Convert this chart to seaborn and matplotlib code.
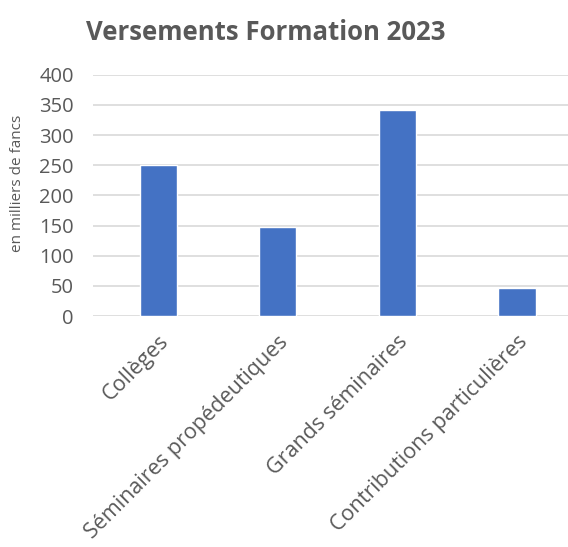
import matplotlib
matplotlib.use("Agg")
import matplotlib.pyplot as plt
import seaborn as sns
import pandas as pd

categories = ["Collèges", "Séminaires propédeutiques", "Grands séminaires", "Contributions particulières"]
values = [250, 147, 342, 46]
yticks = [0, 50, 100, 150, 200, 250, 300, 350, 400]
title = "Versements Formation 2023"
ylabel = "en milliers de fancs"

sns.set_theme(style="white")
plt.rcParams['font.family'] = ['Open Sans', 'DejaVu Sans']

TXT = "#595959"
BAR = "#4472C4"
GRID = "#D9D9D9"

fig = plt.figure(figsize=(5.68, 5.47), dpi=100)
ax = fig.add_axes([0.164, 0.4223, 0.836, 0.441])

df = pd.DataFrame({"cat": categories, "val": values})
sns.barplot(data=df, x="cat", y="val", color=BAR, width=0.31, ax=ax, saturation=1)

ax.set_xlim(-0.543, 3.426)
ax.set_ylim(0, 400)
ax.set_yticks(yticks)
ax.yaxis.grid(True, color=GRID, linewidth=1.2)
ax.set_axisbelow(True)
for s in ax.spines.values():
    s.set_visible(False)
ax.tick_params(axis="both", length=0, colors=TXT)
ax.tick_params(axis="y", labelsize=14.5, pad=14)
ax.set_xlabel("")
ax.set_ylabel(ylabel, fontsize=11, color=TXT)
ax.yaxis.set_label_coords(-0.143, 0.55)
for lab in ax.get_xticklabels():
    lab.set_rotation(45)
    lab.set_ha("right")
    lab.set_va("top")
    lab.set_rotation_mode("anchor")
    lab.set_fontsize(15.5)
    lab.set_color(TXT)
ax.tick_params(axis="x", pad=11)

fig.text(0.468, 0.94, title, ha="center", va="center", fontsize=18.5,
         fontweight="bold", color=TXT)

fig.savefig("out.png", dpi=100)
